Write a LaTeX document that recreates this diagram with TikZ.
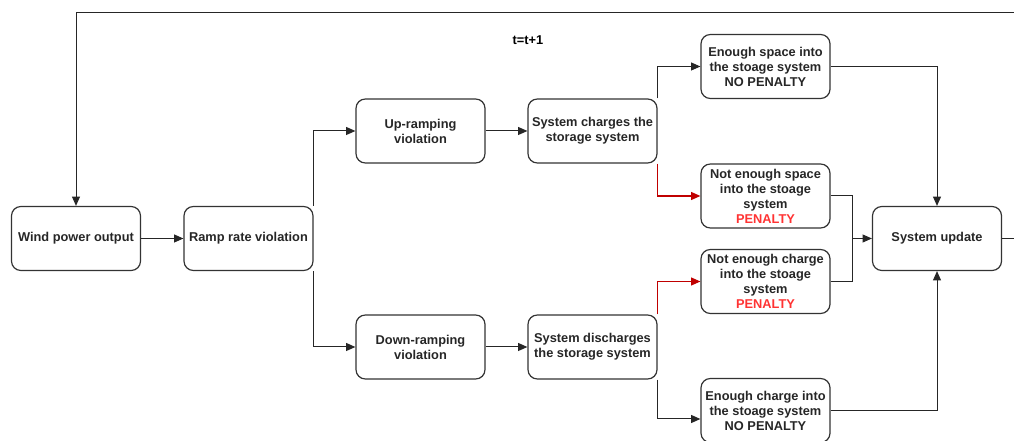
\documentclass[tikz,border=0pt]{standalone}
\usepackage{fontspec}
\setmainfont{Liberation Sans}
\usetikzlibrary{positioning, arrows.meta}

\definecolor{penred}{HTML}{FF3333}
\definecolor{linered}{HTML}{C00000}

\begin{document}
\begin{tikzpicture}[x=0.75pt, y=-0.75pt,
  font=\bfseries\fontsize{9.6}{11.25}\selectfont,
  box/.style={draw=black!80, line width=0.9pt, rounded corners=7pt,
    minimum width=129*0.75pt, minimum height=64*0.75pt,
    align=center, inner sep=1pt, text=black!85},
  conn/.style={line width=0.75pt, draw=black!85,
    -{Triangle[length=7pt,width=6pt]}},
  redconn/.style={line width=0.85pt, draw=linered,
    -{Triangle[length=7pt,width=6pt,fill=linered]}},
  plain/.style={line width=0.75pt, draw=black!85}]
  \useasboundingbox (0,0) rectangle (1014,441);

  % main chain
  \node[box] (wind) at (76,238.5) {Wind power output};
  \node[box] (ramp) at (248.5,238.5) {Ramp rate violation};
  \node[box] (up) at (420.5,131) {Up-ramping\\violation};
  \node[box] (down) at (420.5,347) {Down-ramping\\violation};
  \node[box] (charge) at (592.5,131) {System charges the\\storage system};
  \node[box] (discharge) at (592.5,347) {System discharges\\the storage system};

  % outcomes
  \node[box] (space) at (765.5,66.5) {Enough space into\\the stoage system\\NO PENALTY};
  \node[box] (nospace) at (765.5,196) {Not enough space\\into the stoage\\system\\\textcolor{penred}{PENALTY}};
  \node[box] (nocharge) at (765.5,281.5) {Not enough charge\\into the stoage\\system\\\textcolor{penred}{PENALTY}};
  \node[box] (enough) at (765.5,410.5) {Enough charge into\\the stoage system\\NO PENALTY};
  \node[box] (update) at (937,238.5) {System update};

  \node (tlabel) at (528,40) {t=t+1};

  \coordinate (merge) at (852,238.5);

  \draw[conn] (wind) -- (ramp);
  \draw[conn] (ramp.north east) |- (up.west);
  \draw[conn] (ramp.south east) |- (down.west);
  \draw[conn] (up) -- (charge);
  \draw[conn] (down) -- (discharge);

  \draw[conn] (charge.north east) |- (space.west);
  \draw[redconn] (charge.south east) |- (nospace.west);
  \draw[redconn] (discharge.north east) |- (nocharge.west);
  \draw[conn] (discharge.south east) |- ([yshift=-8.5*0.75pt]enough.west);

  \draw[conn] (space.east) -| (update.north);
  \draw[conn] (enough.east) -| (update.south);
  \draw[plain] (nospace.east) -| (merge);
  \draw[plain] (nocharge.east) -| (merge);
  \draw[conn] (merge) -- (update.west);

  % feedback loop
  \draw[conn] (update.east) -- (1030,238.5) -- (1030,12.7) -| (wind.north);
\end{tikzpicture}
\end{document}
